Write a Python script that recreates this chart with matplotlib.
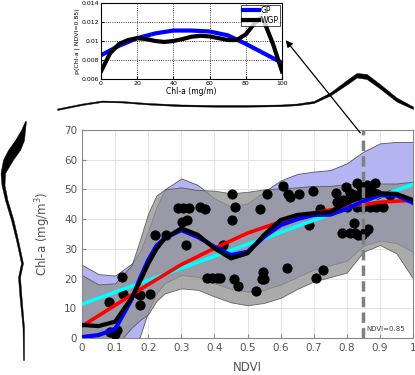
import numpy as np
import matplotlib.pyplot as plt
from matplotlib.patches import FancyArrowPatch

# NDVI grid used for the regression curves and confidence bands
ndvi = [0.0, 0.05, 0.1, 0.15, 0.175, 0.2, 0.225, 0.25, 0.3, 0.35, 0.4, 0.45, 0.5,
        0.55, 0.6, 0.65, 0.7, 0.75, 0.8, 0.85, 0.9, 0.95, 1.0]
gp_mean = [0.3, 1.0, 3.0, 13.0, 20.0, 26.2, 31.0, 33.6, 36.3, 34.0, 30.7, 27.9, 29.0,
           34.0, 38.0, 40.0, 41.4, 41.5, 43.5, 46.0, 48.0, 48.0, 45.5]
gp_upper = [24.6, 21.5, 21.0, 25.0, 29.0, 36.0, 44.0, 50.0, 53.7, 51.5, 47.0, 44.2, 45.3,
            49.2, 53.0, 55.2, 56.0, 56.5, 58.8, 62.7, 65.5, 66.0, 66.0]
gp_lower = [-14, -11, -7, -2, 0.5, 9, 15, 18.5, 21.2, 20.6, 18.5, 16.5, 15.6,
            16.2, 18.0, 20.5, 23.0, 24.5, 26.0, 31.0, 32.8, 32.0, 29.0]
wgp_mean = [4.4, 4.0, 5.5, 13.5, 19.0, 25.0, 30.0, 33.5, 36.9, 34.7, 30.2, 26.8, 28.5,
            34.7, 39.7, 41.4, 42.0, 42.4, 45.4, 47.6, 48.7, 48.5, 46.4]
wgp_upper = [21.2, 18.0, 18.4, 24.5, 33.0, 42.0, 48.0, 50.0, 50.7, 49.8, 49.6, 48.7, 49.2,
             50.0, 50.4, 50.7, 51.2, 51.2, 51.8, 52.0, 52.0, 52.0, 52.6]
wgp_lower = [-12, -9, -3, 3.5, 6, 8, 12.5, 15, 16.7, 16.2, 14, 12, 11,
             11.8, 13.5, 16.5, 19, 20.5, 22, 29, 31.3, 28.5, 20]

# quadratic and linear fits
quad_x = [0.0, 0.1, 0.2, 0.3, 0.4, 0.5, 0.6, 0.7, 0.8, 0.9, 1.0]
quad_y = [4.0, 11.0, 18.0, 24.7, 30.2, 35.3, 39.1, 42.0, 44.2, 45.7, 46.4]
lin_x = [0.0, 1.0]
lin_y = [11.4, 51.7]

# observations
obs_ndvi = [0.081, 0.085, 0.096, 0.106, 0.100, 0.121, 0.125, 0.166, 0.176, 0.206,
            0.176, 0.221, 0.254, 0.291, 0.306, 0.324, 0.301, 0.316, 0.313, 0.358,
            0.371, 0.378, 0.393, 0.408, 0.418, 0.427, 0.452, 0.462, 0.453, 0.460,
            0.472, 0.526, 0.539, 0.558, 0.546, 0.543, 0.551, 0.608, 0.621, 0.627,
            0.656, 0.620, 0.685, 0.699, 0.719, 0.707, 0.727, 0.767, 0.769, 0.785,
            0.798, 0.800, 0.810, 0.810, 0.821, 0.825, 0.825, 0.830, 0.830, 0.835,
            0.835, 0.840, 0.845, 0.850, 0.855, 0.855, 0.860, 0.865, 0.870, 0.870,
            0.885, 0.888, 0.908, 0.930, 0.845, 0.875, 0.890, 0.790, 0.815]
obs_chl = [12.2, 2.0, 2.1, 2.7, 1.5, 20.5, 14.7, 15.0, 14.5, 14.7,
           11.1, 34.7, 34.7, 43.6, 43.6, 43.6, 39.1, 39.8, 31.3, 44.0,
           43.3, 20.1, 20.1, 20.1, 20.1, 31.3, 48.6, 44.1, 39.7, 20.0,
           17.6, 15.7, 43.4, 48.6, 22.3, 20.0, 20.0, 51.0, 48.5, 47.5,
           48.6, 23.5, 37.9, 49.4, 43.5, 20.1, 22.9, 48.7, 45.9, 35.2,
           50.9, 44.2, 35.4, 48.7, 38.7, 35.4, 48.1, 52.3, 44.0, 34.7,
           48.1, 51.5, 34.7, 44.0, 35.8, 48.7, 51.5, 36.6, 50.7, 44.0,
           52.3, 44.0, 44.0, 48.1, 50.0, 49.0, 48.5, 46.4, 47.9]

# conditional density at NDVI = 0.85 (inset)
chl_grid = [0, 10, 20, 30, 40, 50, 60, 70, 80, 90, 100]
gp_pdf = [0.0085, 0.0095, 0.0103, 0.0108, 0.0111, 0.0111, 0.0110, 0.0106, 0.0097, 0.0087, 0.0077]
wgp_chl = [0, 5, 10, 15, 20, 25, 30, 35, 40, 45, 50, 55, 60, 65, 70, 75, 80, 85, 88, 90, 95, 100]
wgp_pdf = [0.0068, 0.0087, 0.0097, 0.0101, 0.0103, 0.0102, 0.0100, 0.0099, 0.0100, 0.0102, 0.01045,
           0.01055, 0.01048, 0.0103, 0.0101, 0.0101, 0.0107, 0.0119, 0.0124, 0.0121, 0.0097, 0.0068]

# marginal densities drawn as ribbons outside the axes
top_ndvi = [-0.075, 0.0, 0.06, 0.12, 0.2, 0.3, 0.4, 0.5, 0.6, 0.65, 0.7, 0.75, 0.8, 0.83, 0.86, 0.9, 0.95, 1.0]
top_hi = [3.5, 8.5, 11.5, 11.0, 9.0, 7.5, 7.0, 7.0, 7.5, 8.5, 11.0, 19.5, 32, 39, 38, 28, 14.5, 5.5]
top_lo = [2.0, 7.0, 10.0, 9.5, 7.5, 5.8, 5.3, 5.3, 5.8, 6.8, 9.0, 16.5, 27.5, 34.5, 33, 23.5, 10.5, 3.0]
left_chl = [73, 70, 66.6, 63.3, 60, 55.5, 51.5, 46.4, 39.7, 33, 25.2, 20.5, 13.8, 3.7, -7.4]
left_a = [1.0, 5, 11, 18, 23, 25.5, 24.5, 21, 15, 10, 5, 8, 6.5, 3.5, 3]
left_b = [0.0, 1, 2, 6, 13, 21, 21.5, 18.5, 12.5, 8, 3, 6, 4.5, 2, 2]

plt.rcParams['font.family'] = ['DejaVu Sans']
fig = plt.figure(figsize=(4.15, 3.75), dpi=100)

# main axes
ax = fig.add_axes([82 / 415, 37 / 375, 331 / 415, 208 / 375])
ax.fill_between(ndvi, gp_lower, gp_upper, color='#b4b4f2', edgecolor='#555555', linewidth=0.6, zorder=1)
ax.fill_between(ndvi, wgp_lower, wgp_upper, color='#929292', alpha=0.77, edgecolor='#444444',
                linewidth=0.6, zorder=2)
ax.scatter(obs_ndvi, obs_chl, s=40, color='black', zorder=3)
ax.plot(lin_x, lin_y, color='cyan', lw=2.6, zorder=4)
ax.plot(quad_x, quad_y, color='red', lw=2.6, zorder=4)
ax.plot(ndvi, gp_mean, color='blue', lw=3, zorder=5)
ax.plot(ndvi, wgp_mean, color='black', lw=3, zorder=6)
ax.axvline(0.85, color='#808080', lw=2.5, ls=(0, (3, 1.5)), zorder=7)
ax.text(0.86, 2.5, 'NDVI=0.85', fontsize=5, color='#444444', zorder=8)

ax.set_xlim(0, 1)
ax.set_ylim(0, 70)
ax.set_xticks([0, 0.1, 0.2, 0.3, 0.4, 0.5, 0.6, 0.7, 0.8, 0.9, 1])
ax.set_xticklabels(['0', '0.1', '0.2', '0.3', '0.4', '0.5', '0.6', '0.7', '0.8', '0.9', '1'])
ax.set_yticks(range(0, 71, 10))
ax.grid(True, color='#e4e4e4', lw=0.7)
ax.set_axisbelow(True)
ax.tick_params(direction='in', length=3, labelsize=7.5, labelcolor='#555555', color='#888888')
for s in ax.spines.values():
    s.set_color('#888888')
ax.set_xlabel('NDVI', fontsize=8.5, color='#555555', labelpad=6)
ax.set_ylabel('Chl-a (mg/m$^3$)', fontsize=8.5, color='#555555', labelpad=8)

# top marginal (NDVI)
axt = fig.add_axes([82 / 415, 263 / 375, 331 / 415, 52 / 375])
axt.fill_between(top_ndvi, top_lo, top_hi, color='black', lw=0.3, edgecolor='black', clip_on=False)
axt.set_xlim(0, 1)
axt.set_ylim(0, 52)
axt.axis('off')

# left marginal (Chl-a)
axl = fig.add_axes([0, 37 / 375, 30 / 415, 208 / 375])
axl.fill_betweenx(left_chl, [26 - v for v in left_a], [26 - v for v in left_b],
                  color='black', lw=0.3, edgecolor='black', clip_on=False)
axl.set_xlim(0, 30)
axl.set_ylim(0, 70)
axl.axis('off')

# inset: conditional density
axi = fig.add_axes([101 / 415, 296 / 375, 181 / 415, 76 / 375])
axi.plot(chl_grid, gp_pdf, color='blue', lw=3, label='GP')
axi.plot(wgp_chl, wgp_pdf, color='black', lw=3, label='WGP')
axi.set_xlim(0, 100)
axi.set_ylim(0.006, 0.014)
axi.set_xticks([0, 20, 40, 60, 80, 100])
axi.set_yticks([0.006, 0.008, 0.01, 0.012, 0.014])
axi.set_yticklabels(['0.006', '0.008', '0.01', '0.012', '0.014'])
axi.grid(True, color='black', ls=':', lw=0.6)
axi.tick_params(direction='in', length=2, labelsize=4.5, pad=1.5)
axi.set_xlabel('Chl-a (mg/m)', fontsize=5.5, labelpad=0.5)
axi.set_ylabel('p(Chl-a | NDVI=0.85)', fontsize=4.5, labelpad=1)
leg = axi.legend(loc='upper right', fontsize=5.5, handlelength=2.2, borderaxespad=0.2,
                 borderpad=0.2, labelspacing=0.1, handletextpad=0.2, fancybox=False)
leg.get_frame().set_edgecolor('black')
leg.get_frame().set_linewidth(0.6)

# arrow from the NDVI=0.85 line to the inset
fig.add_artist(FancyArrowPatch(
    (362 / 415, 240 / 375), (284 / 415, 337 / 375), transform=fig.transFigure,
    arrowstyle='-|>', mutation_scale=10, color='black', lw=0.9))

fig.savefig('out.png', dpi=100)
